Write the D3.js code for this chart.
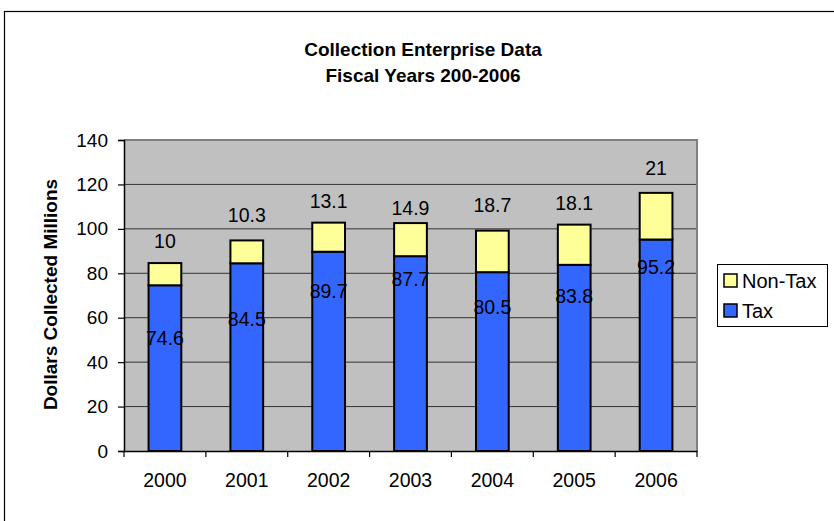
<!DOCTYPE html>
<html>
<head>
<meta charset="utf-8">
<script src="https://cdn.jsdelivr.net/npm/d3@7"></script>
<style>
  html, body { margin: 0; padding: 0; background: #fff; }
  svg { display: block; font-family: "Liberation Sans", Arial, sans-serif; }
</style>
</head>
<body>
<svg id="chart" width="834" height="521"></svg>
<script>
// Fiscal years and collected amounts (millions of dollars)
const years = ["2000", "2001", "2002", "2003", "2004", "2005", "2006"];
const taxValues = [74.6, 84.5, 89.7, 87.7, 80.5, 83.8, 95.2];
const nonTaxValues = [10, 10.3, 13.1, 14.9, 18.7, 18.1, 21];
const yTicks = [0, 20, 40, 60, 80, 100, 120, 140];
const seriesNames = ["Non-Tax", "Tax"];

// Hand-placed label offsets (pixels from the top of each segment)
const taxLabelDy = [53, 56, 39, 23, 35, 31, 28];
const nonTaxLabelDy = [-22, -25, -21, -15, -25, -21, -25];

const colors = { "Tax": "#3366FF", "Non-Tax": "#FFFF99" };
const FONT = "Liberation Sans, Arial, sans-serif";

const svg = d3.select("#chart");

// outer chart frame
svg.append("rect")
  .attr("x", 4.5).attr("y", 11.5)
  .attr("width", 860).attr("height", 540)
  .attr("fill", "#fff").attr("stroke", "#000").attr("stroke-width", 1.2);

const plot = { left: 124, top: 140, right: 697, bottom: 451 };

const x = d3.scaleBand()
  .domain(years)
  .range([plot.left, plot.right])
  .paddingInner(0.6)
  .paddingOuter(0.3);

const xOuter = d3.scaleBand().domain(years).range([plot.left, plot.right]);

const y = d3.scaleLinear()
  .domain([0, 140])
  .range([plot.bottom, plot.top]);

// plot background
svg.append("rect")
  .attr("x", plot.left).attr("y", plot.top)
  .attr("width", plot.right - plot.left).attr("height", plot.bottom - plot.top)
  .attr("fill", "#C0C0C0");

// gridlines
svg.append("g")
  .selectAll("line")
  .data(yTicks.filter(t => t > 0))
  .join("line")
  .attr("x1", plot.left).attr("x2", plot.right)
  .attr("y1", d => y(d)).attr("y2", d => y(d))
  .attr("stroke", "#333").attr("stroke-width", 1);

// plot border (right/top)
svg.append("path")
  .attr("d", `M${plot.left},${plot.top}H${plot.right}V${plot.bottom}`)
  .attr("fill", "none").attr("stroke", "#808080").attr("stroke-width", 2);

// stacked data
const rows = years.map((yr, i) => ({ year: yr, "Tax": taxValues[i], "Non-Tax": nonTaxValues[i] }));
const stack = d3.stack().keys(["Tax", "Non-Tax"])(rows);

svg.append("g")
  .selectAll("g")
  .data(stack)
  .join("g")
  .attr("fill", d => colors[d.key])
  .selectAll("rect")
  .data(d => d)
  .join("rect")
  .attr("x", d => x(d.data.year))
  .attr("width", x.bandwidth())
  .attr("y", d => y(d[1]))
  .attr("height", d => y(d[0]) - y(d[1]))
  .attr("stroke", "#000")
  .attr("stroke-width", 2);

// axes
const yAxis = d3.axisLeft(y).tickValues(yTicks).tickSize(6).tickPadding(10).tickFormat(d3.format("d"));
const gy = svg.append("g").attr("transform", `translate(${plot.left},0)`).call(yAxis);
gy.select(".domain").attr("stroke", "#000").attr("stroke-width", 1.5);
gy.selectAll(".tick line").attr("stroke", "#000").attr("stroke-width", 1.2);
gy.selectAll(".tick text").attr("font-size", 19).attr("fill", "#000").attr("font-family", FONT);

const xAxis = d3.axisBottom(xOuter).tickSize(0).tickPadding(22);
const gx = svg.append("g").attr("transform", `translate(0,${plot.bottom})`).call(xAxis);
gx.select(".domain").attr("stroke", "#000").attr("stroke-width", 1.5);
gx.selectAll(".tick text").attr("font-size", 19.5).attr("fill", "#000").attr("font-family", FONT);

// category boundary ticks on the x axis
const bounds = years.map(yr => xOuter(yr)).concat([plot.right]);
svg.append("g").selectAll("line")
  .data(bounds)
  .join("line")
  .attr("x1", d => d).attr("x2", d => d)
  .attr("y1", plot.bottom).attr("y2", plot.bottom + 6)
  .attr("stroke", "#000").attr("stroke-width", 1.2);

// value labels
const labelG = svg.append("g")
  .attr("font-size", 19.5).attr("fill", "#000").attr("text-anchor", "middle");

stack[0].forEach((d, i) => {
  labelG.append("text")
    .attr("x", x(d.data.year) + x.bandwidth() / 2)
    .attr("y", y(d[1]) + taxLabelDy[i])
    .attr("dy", "0.35em")
    .text(taxValues[i]);
});
stack[1].forEach((d, i) => {
  labelG.append("text")
    .attr("x", x(d.data.year) + x.bandwidth() / 2)
    .attr("y", y(d[1]) + nonTaxLabelDy[i])
    .attr("dy", "0.35em")
    .text(nonTaxValues[i]);
});

// title
const title = svg.append("text")
  .attr("x", 423).attr("text-anchor", "middle")
  .attr("font-size", 19).attr("font-weight", "bold").attr("fill", "#000");
title.append("tspan").attr("x", 423).attr("y", 56).text("Collection Enterprise Data");
title.append("tspan").attr("x", 423).attr("y", 82).text("Fiscal Years 200-2006");

// y axis title
svg.append("text")
  .attr("transform", `translate(57,${(plot.top + plot.bottom) / 2 - 1}) rotate(-90)`)
  .attr("text-anchor", "middle")
  .attr("font-size", 19).attr("font-weight", "bold").attr("fill", "#000")
  .text("Dollars Collected Millions");

// legend
const legend = svg.append("g").attr("transform", "translate(717,264)");
legend.append("rect")
  .attr("x", 0.5).attr("y", 0.5).attr("width", 110).attr("height", 62)
  .attr("fill", "#fff").attr("stroke", "#000").attr("stroke-width", 1);
seriesNames.forEach((name, i) => {
  const row = legend.append("g").attr("transform", `translate(7,${10 + i * 30})`);
  row.append("rect")
    .attr("width", 13).attr("height", 13)
    .attr("fill", colors[name]).attr("stroke", "#000").attr("stroke-width", 1.5);
  row.append("text")
    .attr("x", 18).attr("y", 7).attr("dy", "0.35em")
    .attr("font-size", 20).attr("fill", "#000")
    .text(name);
});
</script>
</body>
</html>
